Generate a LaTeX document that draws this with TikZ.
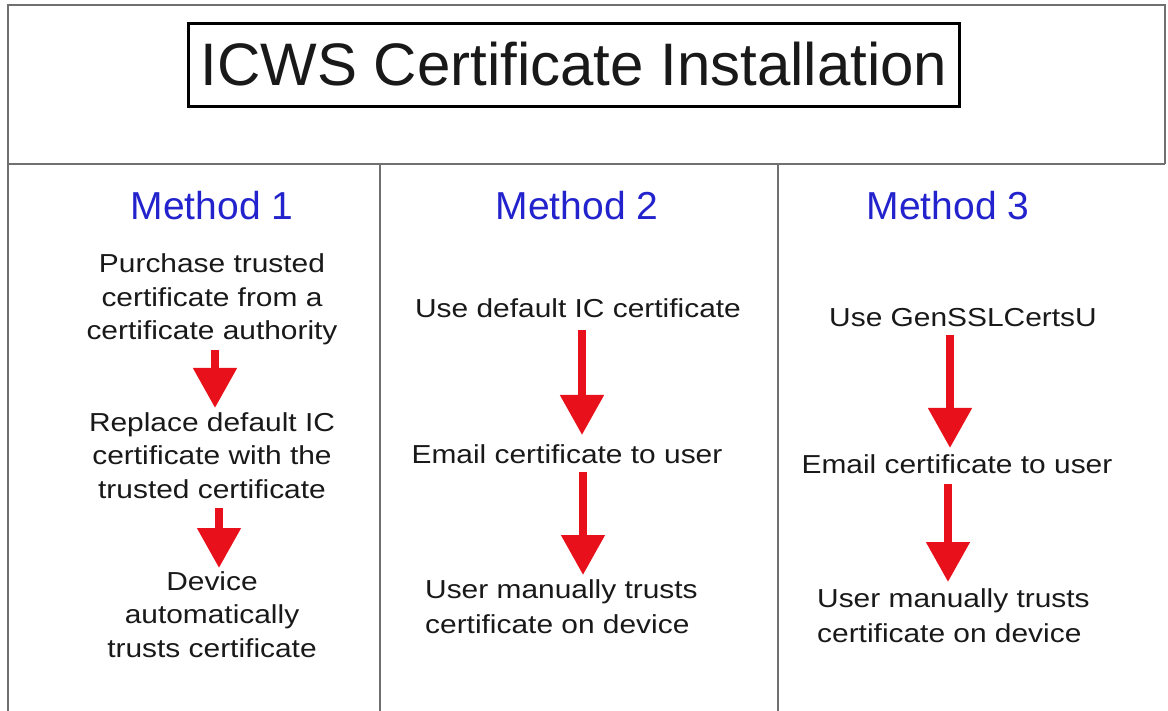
\documentclass[tikz,border=0pt]{standalone}
\usepackage{fontspec}
\setmainfont{Liberation Sans}
\newfontfamily\bodyfont[FakeStretch=1.15]{Liberation Sans}
\usetikzlibrary{arrows.meta,calc}
\definecolor{framecol}{RGB}{112,112,112}
\definecolor{headblue}{RGB}{35,35,205}
\definecolor{txtcol}{RGB}{25,25,25}
\definecolor{arrowred}{RGB}{232,16,26}
\tikzset{
  frameline/.style={draw=framecol, line width=2pt},
  titlebox/.style={draw=black, line width=3pt, minimum width=771pt, minimum height=83pt, inner sep=0pt},
  titletext/.style={font=\fontsize{60}{66}\selectfont, text=txtcol, inner sep=0pt, anchor=base},
  heading/.style={font=\fontsize{39}{44}\selectfont, text=headblue, inner sep=0pt, anchor=base},
  body/.style={font=\bodyfont\fontsize{26}{33.5}\selectfont, text=txtcol, inner sep=0pt, align=center, anchor=base},
  bodyleft/.style={font=\bodyfont\fontsize{26}{35}\selectfont, text=txtcol, inner sep=0pt, align=left, anchor=base west},
  redarrow/.style={draw=arrowred, line width=8pt, -{Triangle[length=40pt,width=42pt]}}
}
\begin{document}
\begin{tikzpicture}[x=1pt,y=-1pt]
\useasboundingbox (0,0) rectangle (1168,711);
\fill[white] (0,0) rectangle (1168,711);
% frame
\draw[frameline] (8,711) -- (8,5) -- (1165,5) -- (1165,164);
\draw[frameline] (8,164) -- (1165,164);
\draw[frameline] (380,164) -- (380,711);
\draw[frameline] (778,164) -- (778,711);
% title
\node[titlebox] (tbox) at (573.5,65.5) {};
\node[titletext] (title) at (574,86) {ICWS Certificate Installation};
% headings
\node[heading] (h1) at (212,220) {Method 1};
\node[heading] (h2) at (577,220) {Method 2};
\node[heading] (h3) at (948,220) {Method 3};
% method 1 (base anchor = last line baseline)
\node[body] (m1a) at (212,340) {Purchase trusted\\certificate from a\\certificate authority};
\node[body] (m1b) at (212,498) {Replace default IC\\certificate with the\\trusted certificate};
\node[body] (m1c) at (212,657) {Device\\automatically\\trusts certificate};
\draw[redarrow] ($(m1a.base)+(3,10)$) -- ($(m1b.base)+(3,-90)$);
\draw[redarrow] ($(m1b.base)+(7,10)$) -- ($(m1c.base)+(7,-89)$);
% method 2
\node[body] (m2a) at (578,318) {Use default IC certificate};
\node[body] (m2b) at (567,463) {Email certificate to user};
\node[bodyleft] (m2c) at (425,633) {User manually trusts\\certificate on device};
\draw[redarrow] ($(m2a.base)+(4,12)$) -- ($(m2b.base)+(15,-28)$);
\draw[redarrow] ($(m2b.base)+(16,9)$) -- ($(m2c.base west)+(158,-58)$);
% method 3
\node[body] (m3a) at (963,327) {Use GenSSLCertsU};
\node[body] (m3b) at (957,473) {Email certificate to user};
\node[bodyleft] (m3c) at (817,642) {User manually trusts\\certificate on device};
\draw[redarrow] ($(m3a.base)+(-13,8)$) -- ($(m3b.base)+(-7,-25)$);
\draw[redarrow] ($(m3b.base)+(-9,11)$) -- ($(m3c.base west)+(131,-60)$);
\end{tikzpicture}
\end{document}
